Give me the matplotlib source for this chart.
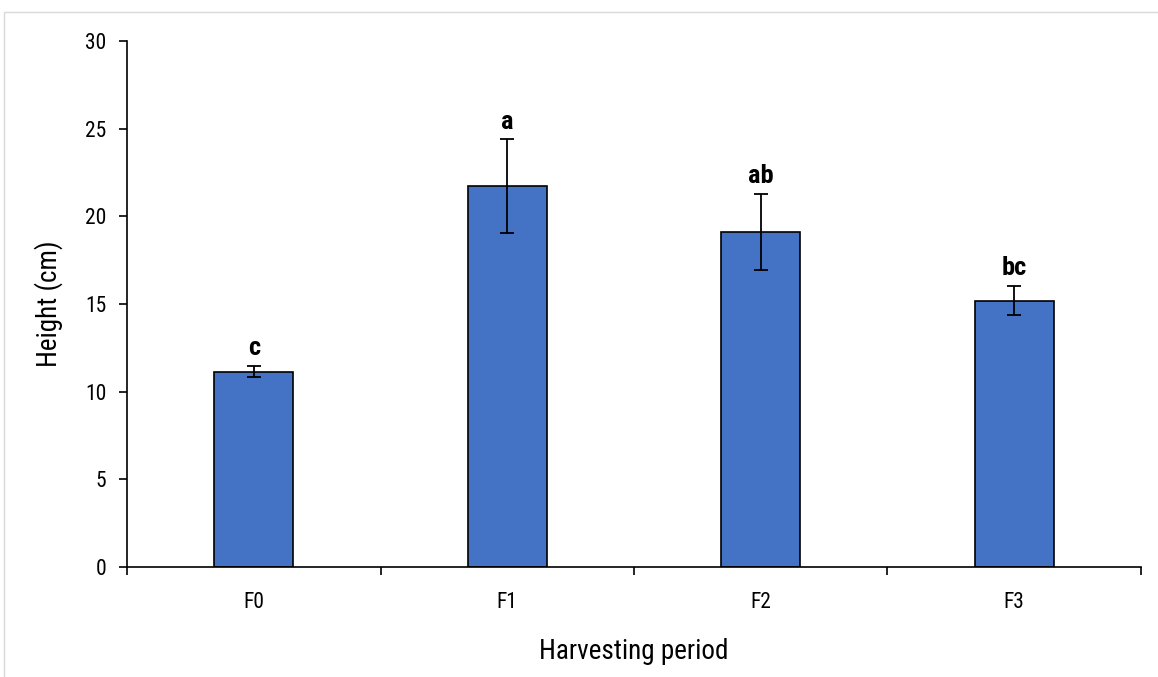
"""Bar chart of plant height per harvesting period with error bars."""
import matplotlib
matplotlib.use("Agg")
import matplotlib.pyplot as plt
from matplotlib import font_manager
from matplotlib.patches import Rectangle


PERIODS = ["F0", "F1", "F2", "F3"]
HEIGHT = [11.15, 21.72, 19.12, 15.2]
ERR = [0.33, 2.67, 2.18, 0.85]
LETTERS = ["c", "a", "ab", "bc"]

# narrow Arial-like font if there is one
names = {f.name for f in font_manager.fontManager.ttflist}
FONT = "Liberation Sans"
for cand in ["Liberation Sans Narrow", "Arial Narrow", "Arimo Narrow",
             "Roboto Condensed"]:
    if cand in names:
        FONT = cand
        break
plt.rcParams['font.family'] = [FONT, 'DejaVu Sans']
if FONT == "Liberation Sans":
    TICK_FS, LABEL_FS, LETTER_FS = 14, 17, 17
else:
    TICK_FS, LABEL_FS, LETTER_FS = 15.5, 19.5, 19


def main():
    fig = plt.figure(figsize=(11.58, 6.77), dpi=100)
    # light frame of the chart area
    fig.patches.append(Rectangle((4 / 1158, -0.05), 1.0, 1 - 12 / 677 + 0.05,
                                 transform=fig.transFigure, fill=False,
                                 edgecolor="#d9d9d9", lw=1.0))
    ax = fig.add_axes([0.1097, 0.1625, 0.8756, 0.7769])
    x = range(len(PERIODS))
    ax.bar(x, HEIGHT, width=0.31, color="#4472C4", edgecolor="black",
           linewidth=1.2, zorder=2)
    ax.errorbar(x, HEIGHT, yerr=ERR, fmt="none", ecolor="black",
                elinewidth=1.3, capsize=5, capthick=1.3, zorder=3)
    for xi, h, e, lab in zip(x, HEIGHT, ERR, LETTERS):
        ax.annotate(lab, (xi, h + e), xytext=(0, 4), textcoords="offset points",
                    ha="center", va="bottom", fontsize=LETTER_FS,
                    fontweight="bold")

    ax.set_xlim(-0.5, len(PERIODS) - 0.5)
    ax.set_ylim(0, 30)
    ax.set_yticks(range(0, 31, 5))
    ax.set_xticks(list(x))
    ax.set_xticklabels(PERIODS)
    ax.set_xticks([i - 0.5 for i in range(len(PERIODS) + 1)], minor=True)
    ax.tick_params(axis="x", which="major", length=0, pad=18,
                   labelsize=TICK_FS)
    ax.tick_params(axis="x", which="minor", length=6, width=1.2,
                   direction="out")
    ax.tick_params(axis="y", length=6, width=1.2, direction="out", pad=9,
                   labelsize=TICK_FS)
    for side in ["top", "right"]:
        ax.spines[side].set_visible(False)
    for side in ["left", "bottom"]:
        ax.spines[side].set_linewidth(1.2)

    ax.set_xlabel("Harvesting period", fontsize=LABEL_FS, labelpad=18)
    ax.set_ylabel("Height (cm)", fontsize=LABEL_FS, labelpad=16)
    fig.savefig("out.png", dpi=100)
    plt.close()


if __name__ == "__main__":
    main()
